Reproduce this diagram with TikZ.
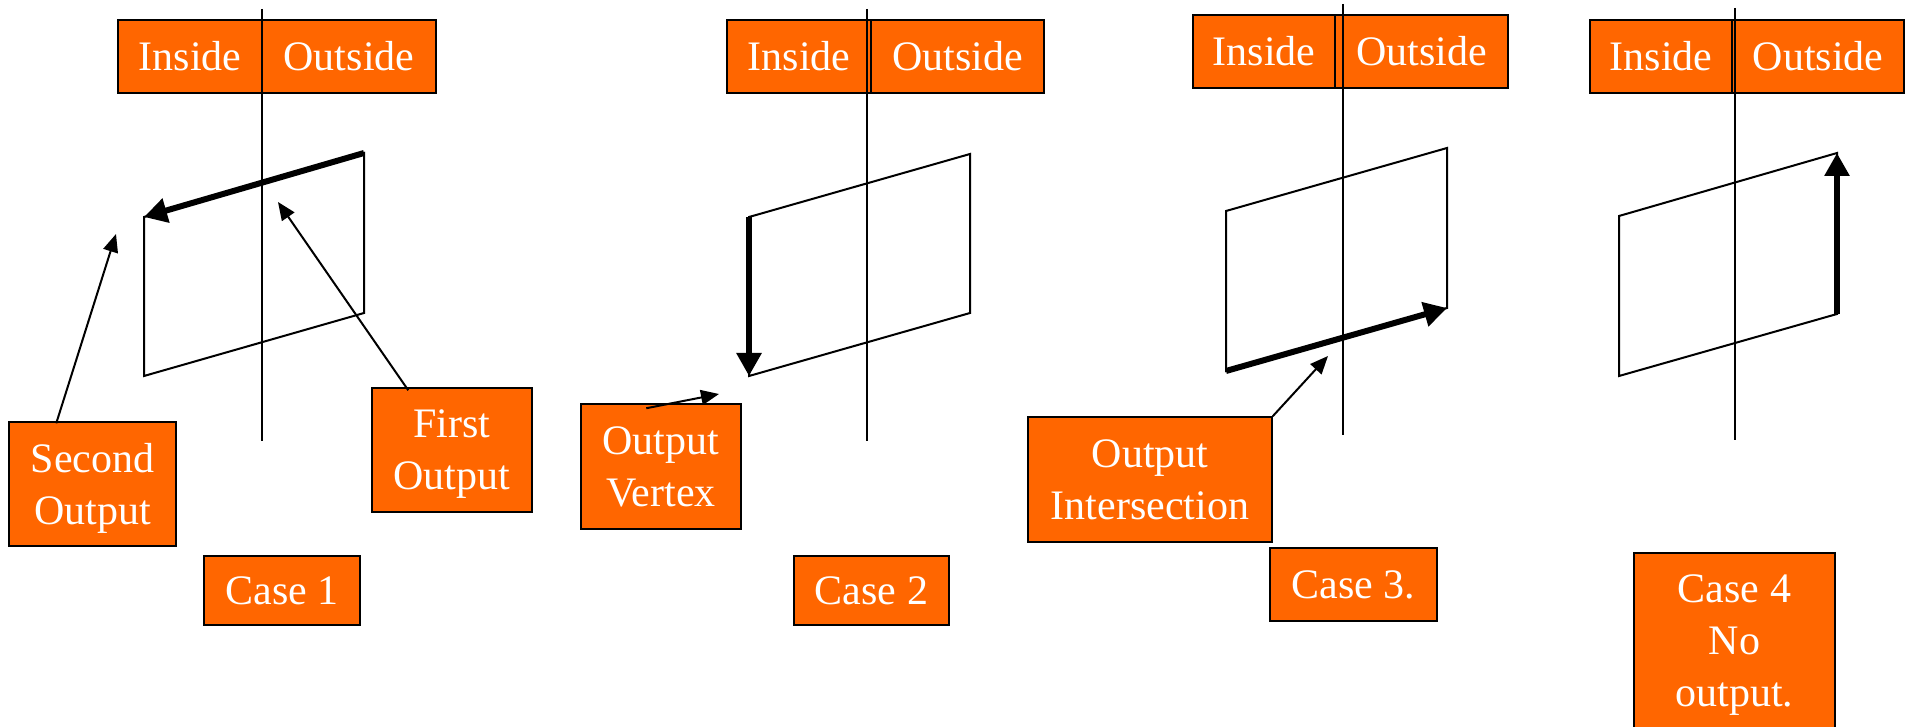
\documentclass[tikz,border=0pt]{standalone}
\usepackage{fontspec}
\setmainfont{Liberation Serif}
\usetikzlibrary{arrows.meta,calc}
\definecolor{boxorange}{HTML}{FF6600}
\begin{document}
\begin{tikzpicture}[x=1pt,y=-1pt,
  obox/.style={draw=black,line width=1.5pt,fill=boxorange,text=white,inner sep=0pt,
    font=\fontsize{42}{52}\selectfont,align=center},
  thinline/.style={line width=2pt},
  bigarrow/.style={line width=6pt,-{Triangle[length=23pt,width=24pt]}},
  pointer/.style={line width=2pt,-{Triangle[length=18pt,width=15pt]}}]
\useasboundingbox (0,0) rectangle (1915,727);

% ---------- header boxes ----------
\node[obox,minimum width=144pt,minimum height=73pt] (in1) at (190,56.5) {Inside};
\node[obox,minimum width=174pt,minimum height=73pt] (out1) at (349,56.5) {Outside};
\node[obox,minimum width=144pt,minimum height=73pt] (in2) at (799,56.5) {Inside};
\node[obox,minimum width=173pt,minimum height=73pt] (out2) at (957.5,56.5) {Outside};
\node[obox,minimum width=142pt,minimum height=73pt] (in3) at (1264,51.5) {Inside};
\node[obox,minimum width=173pt,minimum height=73pt] (out3) at (1421.5,51.5) {Outside};
\node[obox,minimum width=142pt,minimum height=73pt] (in4) at (1661,56.5) {Inside};
\node[obox,minimum width=172pt,minimum height=73pt] (out4) at (1818,56.5) {Outside};

% ---------- dividing lines ----------
\coordinate (v1a) at (262,9);   \coordinate (v1b) at (262,441);
\coordinate (v2a) at (867,9);   \coordinate (v2b) at (867,441);
\coordinate (v3a) at (1343,4);  \coordinate (v3b) at (1343,435);
\coordinate (v4a) at (1735,8);  \coordinate (v4b) at (1735,440);
\draw[thinline] (v1a) -- (v1b);
\draw[thinline] (v2a) -- (v2b);
\draw[thinline] (v3a) -- (v3b);
\draw[thinline] (v4a) -- (v4b);

% ---------- polygons ----------
\coordinate (p1a) at (144,217); \coordinate (p1b) at (364,153);
\coordinate (p1c) at (364,313); \coordinate (p1d) at (144,376);
\coordinate (p2a) at (749,217); \coordinate (p2b) at (970,154);
\coordinate (p2c) at (970,313); \coordinate (p2d) at (749,376);
\coordinate (p3a) at (1226,211); \coordinate (p3b) at (1447,148);
\coordinate (p3c) at (1447,308); \coordinate (p3d) at (1226,371);
\coordinate (p4a) at (1619,216); \coordinate (p4b) at (1837,153);
\coordinate (p4c) at (1837,314); \coordinate (p4d) at (1619,376);
\draw[thinline,line join=miter] (p1a) -- (p1b) -- (p1c) -- (p1d) -- cycle;
\draw[thinline,line join=miter] (p2a) -- (p2b) -- (p2c) -- (p2d) -- cycle;
\draw[thinline,line join=miter] (p3a) -- (p3b) -- (p3c) -- (p3d) -- cycle;
\draw[thinline,line join=miter] (p4a) -- (p4b) -- (p4c) -- (p4d) -- cycle;

% ---------- thick output edges ----------
\draw[bigarrow] (p1b) -- (p1a);
\draw[bigarrow] (p2a) -- (p2d);
\draw[bigarrow] (p3d) -- (p3c);
\draw[bigarrow] (p4c) -- (p4b);

% ---------- labels ----------
\node[obox,minimum width=167pt,minimum height=124pt,text depth=0pt] (so) at (92.5,484) {Second\\Output};
\node[obox,minimum width=160pt,minimum height=124pt,text depth=0pt] (fo) at (452,450) {First\\Output};
\node[obox,minimum width=160pt,minimum height=125pt] (ov) at (661,466.5) {Output\\Vertex};
\node[obox,minimum width=244pt,minimum height=125pt] (oi) at (1150,479.5) {Output\\Intersection};

\node[obox,minimum width=156pt,minimum height=69pt] (c1) at (282,590.5) {Case 1};
\node[obox,minimum width=155pt,minimum height=69pt] (c2) at (871.5,590.5) {Case 2};
\node[obox,minimum width=167pt,minimum height=73pt] (c3) at (1353.5,584.5) {Case 3.};
\node[obox,minimum width=201pt,minimum height=184pt] (c4) at (1734.5,645) {Case 4\\No\\output.};

% ---------- pointers ----------
\coordinate (t1) at (116,234);
\coordinate (t2) at (278,202);
\coordinate (t3) at (719,394);
\coordinate (t4) at (1328,356);
\draw[pointer] ($(so.north west)+(48,2)$) -- (t1);
\draw[pointer] ($(fo.north west)+(37,3)$) -- (t2);
\draw[pointer] ($(ov.north west)+(66,5)$) -- (t3);
\draw[pointer] (oi.north east) -- (t4);
\end{tikzpicture}
\end{document}
